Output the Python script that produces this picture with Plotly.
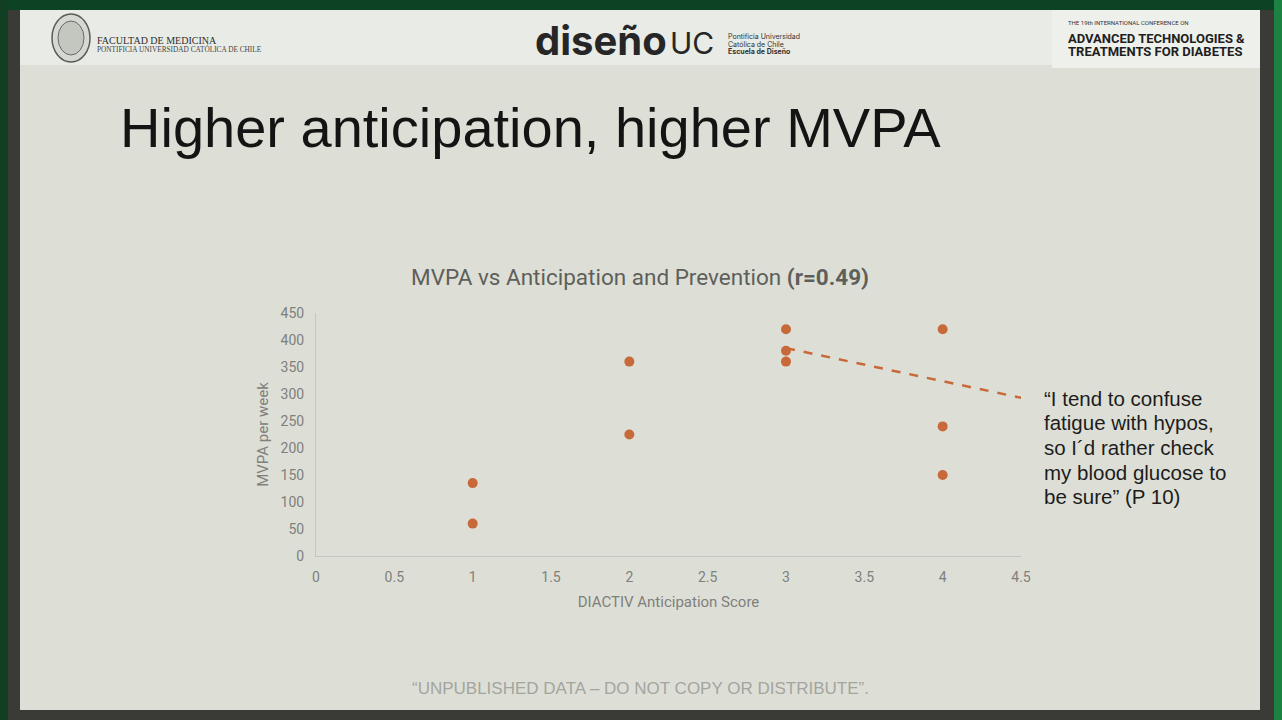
import plotly.graph_objects as go

# scores and weekly MVPA minutes
anticipation_score = [1, 1, 2, 2, 3, 3, 3, 4, 4, 4]
mvpa_per_week = [135, 60, 360, 225, 420, 380, 360, 420, 240, 150]

# the dashed trend segment drawn on the slide
trend_x = [3, 4.55]
trend_y = [385, 290]

x_ticks = [0, 0.5, 1, 1.5, 2, 2.5, 3, 3.5, 4, 4.5]
y_ticks = [0, 50, 100, 150, 200, 250, 300, 350, 400, 450]

quote_lines = [
    "“I tend to confuse",
    "fatigue with hypos,",
    "so I´d rather check",
    "my blood glucose to",
    "be sure” (P 10)",
]

W, H = 1282, 720
ORANGE = "#c8693a"
GREY = "#7f807c"
CHART_FONT = "Liberation Sans Narrow, Roboto, Arial, sans-serif"


def px(x):
    return x / W


def py_(y):
    return 1 - y / H


fig = go.Figure()

fig.add_trace(
    go.Scatter(
        x=anticipation_score,
        y=mvpa_per_week,
        mode="markers",
        marker=dict(color=ORANGE, size=10),
        showlegend=False,
        hoverinfo="skip",
    )
)

fig.add_trace(
    go.Scatter(
        x=trend_x,
        y=trend_y,
        mode="lines",
        line=dict(color=ORANGE, width=2.5, dash="dash"),
        showlegend=False,
        hoverinfo="skip",
    )
)

# slide frame and header strips
shapes = [
    dict(type="rect", x0=0, x1=1, y0=py_(10), y1=1, fillcolor="#0d4324"),
    dict(type="rect", x0=0, x1=px(8), y0=0, y1=1, fillcolor="#123f24"),
    dict(type="rect", x0=px(1274), x1=1, y0=0, y1=1, fillcolor="#1b8242"),
    dict(type="rect", x0=px(20), x1=px(1260), y0=py_(710), y1=py_(10), fillcolor="#dddfd6"),
    dict(type="rect", x0=px(20), x1=px(1260), y0=py_(65), y1=py_(10), fillcolor="#e8ebe6"),
    dict(type="rect", x0=px(1052), x1=px(1260), y0=py_(68), y1=py_(10), fillcolor="#eef0ec"),
    dict(type="circle", x0=px(52), x1=px(90), y0=py_(62), y1=py_(14), fillcolor="#d6d8d2",
         line=dict(color="#5a5c58", width=1.5)),
    dict(type="circle", x0=px(58), x1=px(84), y0=py_(55), y1=py_(21), fillcolor="#c4c6c0",
         line=dict(color="#6a6c68", width=1)),
]
for s in shapes:
    s.setdefault("line", dict(width=0))
    s["xref"] = "paper"
    s["yref"] = "paper"
    s["layer"] = "below"

annotations = []


def note(text, x, y, size, color="#1a1a1a", family="Liberation Sans, Arial", xanchor="left"):
    annotations.append(
        dict(
            text=text, x=px(x), y=py_(y), xref="paper", yref="paper",
            xanchor=xanchor, yanchor="middle", showarrow=False,
            font=dict(size=size, color=color, family=family),
        )
    )


# header logos as text
note("FACULTAD DE MEDICINA", 95, 40, 10, "#2e2e2e", "Liberation Serif, DejaVu Serif")
note("PONTIFICIA UNIVERSIDAD CATÓLICA DE CHILE", 95, 49, 7.3, "#444444", "Liberation Serif, DejaVu Serif")
note("<b>diseño</b>", 533, 40, 40, "#262626", "Inter, Roboto")
note("UC", 668, 43, 30, "#262626", "Inter, Roboto")
note("Pontificia Universidad", 726, 36, 7, "#333333", "Inter, Roboto")
note("Católica de Chile", 726, 44, 7, "#333333", "Inter, Roboto")
note("<b>Escuela de Diseño</b>", 726, 52, 7, "#333333", "Inter, Roboto")
note("THE 19th INTERNATIONAL CONFERENCE ON", 1066, 22, 6, "#333333", "Liberation Sans Narrow, Roboto")
note("<b>ADVANCED TECHNOLOGIES &</b>", 1066, 38, 13, "#1e1e1e", "Liberation Sans Narrow, Roboto")
note("<b>TREATMENTS FOR DIABETES</b>", 1066, 52, 13, "#1e1e1e", "Liberation Sans Narrow, Roboto")

# slide title
note("Higher anticipation, higher MVPA", 118, 127, 56, "#141414")

# chart title
note("MVPA vs Anticipation and Prevention <b>(r=0.49)</b>", 640, 277, 22.5, "#5e5f5b", CHART_FONT, "center")

# quote next to the chart
for i, line in enumerate(quote_lines):
    note(line, 1042, 398 + i * 24.7, 20.5, "#1c1c1c")

# footer
note("“UNPUBLISHED DATA – DO NOT COPY OR DISTRIBUTE”.", 640, 688, 17, "#a3a59f", "Liberation Sans, Arial", "center")

fig.update_layout(
    width=W,
    height=H,
    margin=dict(l=0, r=0, t=0, b=0, autoexpand=False),
    paper_bgcolor="#3a3b36",
    plot_bgcolor="rgba(0,0,0,0)",
    shapes=shapes,
    annotations=annotations,
    font=dict(family=CHART_FONT, color=GREY),
    xaxis=dict(
        domain=[px(316), px(1021)],
        range=[0, 4.5],
        tickvals=x_ticks,
        ticktext=[f"{v:g}" for v in x_ticks],
        tickfont=dict(size=14, color=GREY),
        showgrid=False,
        zeroline=False,
        showline=True,
        linecolor="#c4c6bf",
        linewidth=1,
        ticks="",
        ticklabelstandoff=8,
        title=dict(text="DIACTIV Anticipation Score", font=dict(size=15, color=GREY), standoff=12),
    ),
    yaxis=dict(
        domain=[py_(556), py_(313)],
        range=[0, 450],
        tickvals=y_ticks,
        tickfont=dict(size=14, color=GREY),
        showgrid=False,
        zeroline=False,
        showline=True,
        linecolor="#c4c6bf",
        linewidth=1,
        ticks="",
        ticklabelstandoff=8,
        title=dict(text="MVPA per week", font=dict(size=15, color=GREY), standoff=8),
    ),
)

# drop the browser's default page margin so the figure fills the window
fig.write_html(
    "out.html",
    config={"displayModeBar": False},
    post_script="document.body.style.margin='0';document.body.style.overflow='hidden';",
)
